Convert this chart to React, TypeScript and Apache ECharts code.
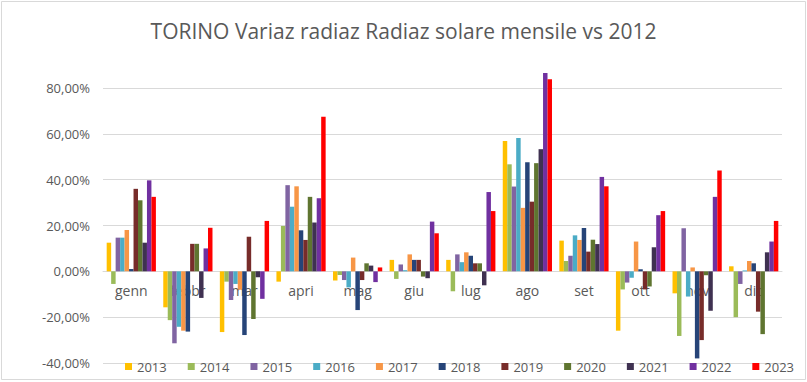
import React, { useEffect, useRef } from "react";
import * as echarts from "echarts";

const categories = ["genn", "febbr", "mar", "apri", "mag", "giu", "lug", "ago", "set", "ott", "nov", "dic"];
const years = ["2013", "2014", "2015", "2016", "2017", "2018", "2019", "2020", "2021", "2022", "2023"];
const colors = ["#FFC000", "#9BBB59", "#8064A2", "#4BACC6", "#F79646", "#264478", "#772C2A", "#5F7530", "#3F3151", "#7030A0", "#FF0000"];

const v2013 = [12.5, -15.7, -26.5, -4.5, -4, 5, 5, 56.9, 13.4, -25.9, -9.6, 2.2];
const v2014 = [-5.5, -21.3, -4.5, 19.8, -1.6, -3.3, -8.7, 46.7, 4.5, -7.9, -28.2, -20];
const v2015 = [14.7, -31.4, -12.5, 37.6, -3.8, 3, 7.4, 37, 6.8, -4.9, 18.8, -5.5];
const v2016 = [14.7, -24.2, -5.5, 28.2, -7, 0.5, 4, 58.2, 15.7, -2.8, -11, 0.4];
const v2017 = [18, -25.9, -8, 37.1, 6, 7.4, 8.3, 27.7, 13.7, 13, 1.7, 4.5];
const v2018 = [1, -26.3, -27.8, 17.9, -16.9, 5, 6.8, 47.6, 18.9, 0.9, -38, 3.5];
const v2019 = [36, 12, 15.1, 13.7, -3.8, 5, 3.5, 30.4, 8.6, -7.9, -30, -17.6];
const v2020 = [31, 12, -20.8, 32.5, 3.5, -2.3, 3.5, 47.2, 13.8, -6.6, -1.7, -27.4];
const v2021 = [12.5, -11.6, -2.6, 21.3, 2.5, -3, -6.1, 53.3, 11.9, 10.5, -17.2, 8.3];
const v2022 = [39.7, 10, -12, 31.9, -4.7, 21.7, 34.6, 86.5, 41.2, 24.5, 32.5, 13];
const v2023 = [32.5, 19, 22, 67.5, 1.7, 16.6, 26.3, 83.8, 37.1, 26.3, 44, 22];

const seriesValues = [v2013, v2014, v2015, v2016, v2017, v2018, v2019, v2020, v2021, v2022, v2023];

const yMin = -40;
const yMax = 80;
const yInterval = 20;

const fmt = (v: number) => v.toFixed(2).replace(".", ",") + "%";

export default function App() {
  const ref = useRef<HTMLDivElement>(null);
  useEffect(() => {
    if (!ref.current) return;
    const chart = echarts.init(ref.current, undefined, { renderer: "svg" });
    const font = "'Open Sans', 'Noto Sans', sans-serif";
    const gridTop = 88;
    const gridBottom = 19;
    const gridHeight = 382 - gridTop - gridBottom;
    const zeroOffset = (gridHeight * (0 - yMin)) / (yMax - yMin);
    chart.setOption({
      animation: false,
      backgroundColor: "#ffffff",
      textStyle: { fontFamily: font },
      title: {
        text: "TORINO Variaz radiaz Radiaz solare mensile vs 2012",
        left: "center",
        top: 15,
        textStyle: { fontFamily: font, fontSize: 21, fontWeight: "normal", color: "#595959" },
      },
      graphic: [
        {
          type: "rect",
          shape: { x: 1.5, y: 1.5, width: 804, height: 378 },
          style: { fill: "none", stroke: "#d9d9d9", lineWidth: 1 },
          silent: true,
        },
      ],
      legend: {
        data: years,
        top: 355,
        left: 120,
        itemWidth: 7,
        itemHeight: 7,
        itemGap: 21,
        icon: "rect",
        textStyle: { fontFamily: font, fontSize: 13, color: "#595959" },
      },
      grid: { left: 103, right: 25, top: gridTop, bottom: gridBottom, containLabel: false },
      xAxis: {
        type: "category",
        data: categories,
        position: "bottom",
        offset: -zeroOffset,
        axisLine: { onZero: false, lineStyle: { color: "#d9d9d9" } },
        axisTick: { show: false },
        axisLabel: { color: "#595959", fontSize: 14, margin: 12, fontFamily: font },
      },
      yAxis: {
        type: "value",
        min: yMin,
        max: yMax,
        interval: yInterval,
        axisLine: { show: false },
        axisTick: { show: false },
        splitLine: { lineStyle: { color: "#d9d9d9" } },
        axisLabel: { color: "#595959", fontSize: 13, margin: 13, formatter: fmt, fontFamily: font },
      },
      series: years.map((y, i) => ({
        name: y,
        type: "bar",
        data: seriesValues[i],
        barGap: "0%",
        barCategoryGap: "13%",
        clip: false,
        itemStyle: { color: colors[i] },
      })),
    });
    return () => chart.dispose();
  }, []);
  return <div ref={ref} style={{ position: "fixed", left: 0, top: 0, width: 807, height: 382 }} />;
}
